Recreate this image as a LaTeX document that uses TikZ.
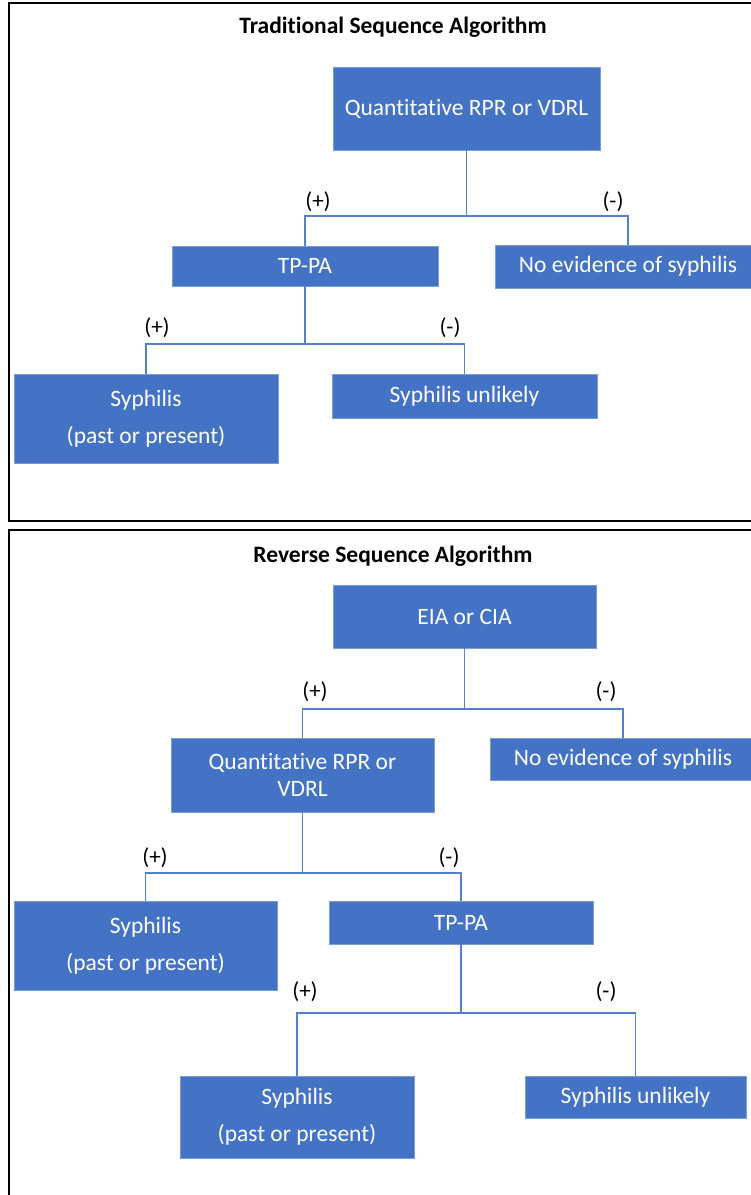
\documentclass[tikz,border=0pt]{standalone}
\usepackage{fontspec}
\setmainfont[Ligatures=NoCommon]{Carlito}
\usetikzlibrary{positioning}
\definecolor{boxblue}{HTML}{4472C4}
\definecolor{boxedge}{HTML}{7A9BD8}
\definecolor{linkblue}{HTML}{5580CC}

\begin{document}
\begin{tikzpicture}[
    x=1pt, y=-1pt,
    mybox/.style={fill=boxblue,draw=boxedge,line width=0.6pt,text=white,align=center,inner sep=0pt,font=\fontsize{23.5}{28}\selectfont},
    sign/.style={font=\fontsize{23}{26}\selectfont},
    heading/.style={font=\fontsize{23.5}{28}\selectfont\bfseries},
    link/.style={draw=linkblue,line width=1.2pt},
    frame/.style={draw=black,line width=2.4pt}
    ]
    \clip (0,0) rectangle (751,1195);

    % traditional sequence
    \draw[frame] (770,3) -- (9,3) -- (9,521) -- (770,521);
    \node[heading] (title1) at (393,27) {Traditional Sequence Algorithm};

    \node[mybox, minimum width=267, minimum height=83] (q1) at (466.5,108.5) {Quantitative RPR or VDRL};
    \node[mybox, minimum width=266, minimum height=40] (tppa1) at (305,266) {TP-PA};
    \node[mybox, minimum width=266, minimum height=43] (noev1) at (628,266.5) {No evidence of syphilis};
    \node[mybox, minimum width=264, minimum height=89] (syph1) at (146,418.5) {Syphilis\\[9pt](past or present)};
    \node[mybox, minimum width=265, minimum height=44] (unlik1) at (464.5,396) {Syphilis unlikely};

    \coordinate (bus1) at (q1.south |- 0,216);
    \coordinate (bus2) at (tppa1.south |- 0,344);
    \draw[link] (q1.south) -- (bus1);
    \draw[link] (tppa1.north) |- (bus1) -| (noev1.north);
    \draw[link] (tppa1.south) -- (bus2);
    \draw[link] (syph1.north) |- (bus2) -| (unlik1.north);

    \node[sign] (p1) at (318,202) {(+)};
    \node[sign] (m1) at (613,202) {(-)};
    \node[sign] (p2) at (157,328) {(+)};
    \node[sign] (m2) at (450,328) {(-)};

    % reverse sequence
    \draw[frame] (770,530) -- (9,530) -- (9,1210);
    \node[heading] (title2) at (393,556) {Reverse Sequence Algorithm};

    \node[mybox, minimum width=263, minimum height=63] (eia2) at (464.5,616.5) {EIA or CIA};
    \node[mybox, minimum width=263, minimum height=74] (q2) at (302.5,775) {Quantitative RPR or\\[-1pt]VDRL};
    \node[mybox, minimum width=266, minimum height=42] (noev2) at (623,759) {No evidence of syphilis};
    \node[mybox, minimum width=263, minimum height=89] (syph2) at (145.5,945.5) {Syphilis\\[9pt](past or present)};
    \node[mybox, minimum width=264, minimum height=43] (tppa2) at (461,922.5) {TP-PA};
    \node[mybox, minimum width=234, minimum height=82] (syph3) at (297,1117) {Syphilis\\[9pt](past or present)};
    \node[mybox, minimum width=221, minimum height=42] (unlik3) at (635.5,1097) {Syphilis unlikely};

    \coordinate (bus3) at (eia2.south |- 0,709);
    \coordinate (bus4) at (q2.south |- 0,873);
    \coordinate (bus5) at (tppa2.south |- 0,1013);
    \draw[link] (eia2.south) -- (bus3);
    \draw[link] (q2.north) |- (bus3) -| (noev2.north);
    \draw[link] (q2.south) -- (bus4);
    \draw[link] (syph2.north) |- (bus4) -| (tppa2.north);
    \draw[link] (tppa2.south) -- (bus5);
    \draw[link] (syph3.north) |- (bus5) -| (unlik3.north);

    \node[sign] (p3) at (315,692) {(+)};
    \node[sign] (m3) at (606,692) {(-)};
    \node[sign] (p4) at (155,858) {(+)};
    \node[sign] (m4) at (449,858) {(-)};
    \node[sign] (p5) at (305,992) {(+)};
    \node[sign] (m5) at (606,992) {(-)};

  \end{tikzpicture}
\end{document}
